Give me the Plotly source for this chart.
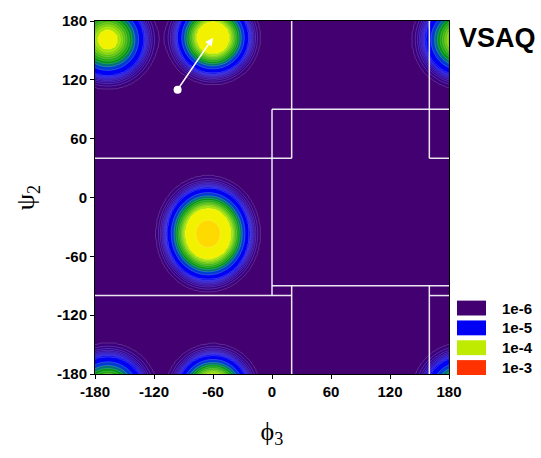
import numpy as np
import plotly.graph_objects as go

# Torsion-space density peaks in (phi3, psi2), degrees, periodic on [-180, 180)
# Each peak: amplitude * exp(-0.5 * q**(p/2)),  q = (dphi/s_phi)^2 + (dpsi/s_psi)^2
peak_phi = [-65.0, -60.0, -167.0]
peak_psi = [-37.0, 163.0, 161.0]
peak_sig_phi = [18.0, 15.0, 16.5]
peak_sig_psi = [20.1, 15.0, 16.5]
peak_pow = [2.2, 2.0, 2.0]
peak_amp = [2.5e-4, 1.9e-4, 1.22e-4]

# Region boundaries (phi_start, psi_start, phi_end, psi_end)
region_segments = [
    (-180, 40, 20, 40),
    (20, 40, 20, 180),
    (0, 90, 180, 90),
    (0, 90, 0, -100),
    (0, -90, 180, -90),
    (-180, -100, 20, -100),
    (20, -90, 20, -180),
    (160, 180, 160, 40),
    (160, 40, 180, 40),
    (160, -100, 180, -100),
    (160, -90, 160, -180),
]

# Transition arrow (start -> end)
arrow_start = (-96, 110)
arrow_end = (-60, 163)

axis_ticks = [-180, -120, -60, 0, 60, 120, 180]
legend_labels = ["1e-6", "1e-5", "1e-4", "1e-3"]
legend_colors = ["rgb(66,0,112)", "rgb(0,0,245)", "rgb(190,235,0)", "rgb(255,50,0)"]

# ---- density grid ----
grid = np.arange(-180.0, 180.0 + 0.1, 1.5)
PHI, PSI = np.meshgrid(grid, grid)
rho = np.zeros_like(PHI)
for p0, s0, sp, ss, pw, a in zip(peak_phi, peak_psi, peak_sig_phi, peak_sig_psi,
                                 peak_pow, peak_amp):
    for dx in (-360, 0, 360):
        for dy in (-360, 0, 360):
            q = ((PHI - p0 - dx) / sp) ** 2 + ((PSI - s0 - dy) / ss) ** 2
            rho += a * np.exp(-0.5 * q ** (pw / 2.0))
rho = np.maximum(rho, 1e-14)

# Map density so that levels 1,2,...,9 x 10^d are evenly spaced
dec = np.floor(np.log10(rho))
zt = dec + (rho / 10.0 ** dec - 1.0) / 9.0

cs = 1.0 / 9.0
z_lo, z_hi = -6 - cs / 2, -3 + cs / 2
stops = [
    (z_lo, "rgb(66,0,112)"),
    (-5 + cs / 2, "rgb(0,0,245)"),
    (-5 + 1.5 * cs, "rgb(0,60,210)"),
    (-5 + 2.5 * cs, "rgb(0,115,120)"),
    (-5 + 3.5 * cs, "rgb(0,150,20)"),
    (-4 - cs / 2, "rgb(165,228,0)"),
    (-4 + cs / 2, "rgb(242,242,0)"),
    (-4 + 1.5 * cs, "rgb(255,218,0)"),
    (z_hi, "rgb(255,50,0)"),
]
colorscale = [[(z - z_lo) / (z_hi - z_lo), c] for z, c in stops]

fig = go.Figure()
fig.add_trace(go.Contour(
    x=grid, y=grid, z=zt,
    autocontour=False,
    contours=dict(start=-6, end=-3, size=cs, coloring="fill"),
    colorscale=colorscale,
    showscale=False,
    line=dict(color="rgba(255,255,255,0.35)", width=0.5),
    hoverinfo="skip",
))

shapes = []
for x0, y0, x1, y1 in region_segments:
    shapes.append(dict(type="line", xref="x", yref="y", x0=x0, y0=y0, x1=x1, y1=y1,
                       line=dict(color="rgba(255,255,255,0.9)", width=1.5), layer="above"))

# Legend swatches to the right of the plot
px_w, px_h = 354.0, 356.0
annotations = []
for i, (lab, col) in enumerate(zip(legend_labels, legend_colors)):
    top = 300 + 20 * i
    shapes.append(dict(type="rect", xref="paper", yref="paper",
                       x0=(457 - 95) / px_w, x1=(486 - 95) / px_w,
                       y0=(374 - top - 15) / px_h, y1=(374 - top) / px_h,
                       fillcolor=col, line=dict(width=0)))
    annotations.append(dict(text="<b>" + lab + "</b>", xref="paper", yref="paper",
                            x=(500 - 95) / px_w, y=(374 - top - 7.5) / px_h,
                            xanchor="left", yanchor="middle", showarrow=False,
                            font=dict(family="Liberation Sans", size=15, color="black")))

annotations.append(dict(text="<b>VSAQ</b>", xref="paper", yref="paper",
                        x=(457 - 95) / px_w, y=(374 - 35) / px_h,
                        xanchor="left", yanchor="middle", showarrow=False,
                        font=dict(family="Liberation Sans", size=27, color="black")))

annotations.append(dict(x=arrow_end[0], y=arrow_end[1], ax=arrow_start[0], ay=arrow_start[1],
                        xref="x", yref="y", axref="x", ayref="y", text="",
                        showarrow=True, arrowhead=2, arrowsize=1, arrowwidth=1.6,
                        arrowcolor="white"))

fig.add_trace(go.Scatter(x=[arrow_start[0]], y=[arrow_start[1]], mode="markers",
                         marker=dict(color="white", size=8), hoverinfo="skip", showlegend=False))

axis_common = dict(
    range=[-180, 180], tickvals=axis_ticks, ticktext=["<b>%d</b>" % t for t in axis_ticks],
    ticks="outside", ticklen=4, tickcolor="black",
    showline=True, linecolor="black", linewidth=1, mirror=True,
    showgrid=False, zeroline=False,
    tickfont=dict(family="Liberation Sans", size=15, color="black"),
)

fig.update_layout(
    width=541, height=458,
    margin=dict(l=95, r=92, t=18, b=84),
    paper_bgcolor="white", plot_bgcolor="rgb(66,0,112)",
    showlegend=False,
    shapes=shapes, annotations=annotations,
    xaxis=dict(**axis_common,
               title=dict(text="ϕ<sub>3</sub>", standoff=22,
                          font=dict(family="Liberation Serif", size=26, color="black"))),
    yaxis=dict(**axis_common,
               title=dict(text="ψ<sub>2</sub>", standoff=14,
                          font=dict(family="Liberation Serif", size=26, color="black"))),
)

fig.write_html("out.html")
